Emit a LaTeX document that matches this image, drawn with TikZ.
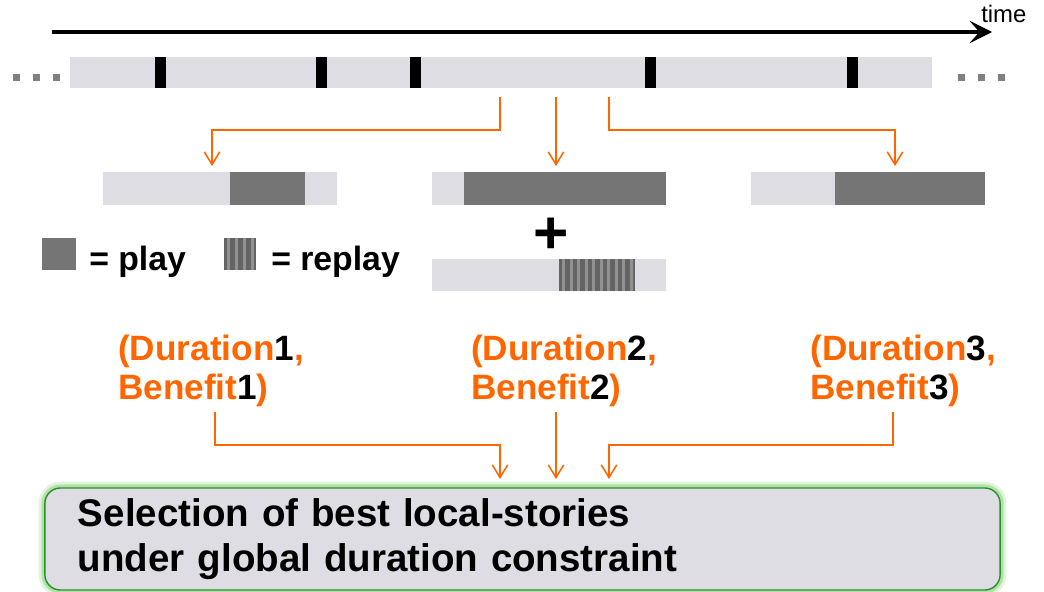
\documentclass[tikz,border=0pt]{standalone}
\usepackage{fontspec}
\setmainfont{Liberation Sans}
\usetikzlibrary{arrows.meta}
\usetikzlibrary{positioning}

\definecolor{barcol}{RGB}{221,221,227}
\definecolor{playcol}{RGB}{117,117,117}
\definecolor{stripedark}{RGB}{100,100,100}
\definecolor{stripelight}{RGB}{145,145,145}
\definecolor{arrcol}{RGB}{255,102,0}
\definecolor{dotcol}{RGB}{128,128,128}
\definecolor{boxgreen}{RGB}{40,145,40}
\definecolor{glowgreen}{RGB}{110,200,90}

\newcommand{\dnum}[1]{\textcolor{black}{#1}}

\tikzset{
  bar/.style={fill=barcol},
  play/.style={fill=playcol},
  tick/.style={fill=black},
  conn/.style={draw=arrcol, line width=1.1pt, -{Straight Barb[length=9pt,width=11pt]}},
  lab/.style={anchor=west, inner sep=0pt, align=left, text=arrcol,
    font=\fontsize{25}{27.7}\selectfont\bfseries},
  legend/.style={anchor=base west, inner sep=0pt, font=\fontsize{24}{26}\selectfont\bfseries},
  selbox/.style={rounded corners=11pt, fill=barcol, draw=boxgreen, line width=1pt,
    preaction={draw=glowgreen, line width=9pt, opacity=0.2},
    preaction={draw=glowgreen, line width=5pt, opacity=0.4},
    minimum width=23.875cm, minimum height=2.55cm, text width=22.225cm,
    inner xsep=0.825cm, align=left, font=\fontsize{27.4}{31.5}\selectfont\bfseries}
}

\begin{document}
\begin{tikzpicture}[x=0.025cm, y=-0.025cm]
  \path[use as bounding box] (0,0) rectangle (1044,591);

  % time axis
  \draw[line width=2.2pt, -{Stealth[length=16pt,width=16pt,inset=7pt]}] (52,32) -- (992,32);
  \node[anchor=base west, inner sep=0pt, font=\fontsize{17}{20}\selectfont] (timelbl) at (981,23) {time};

  % whole video
  \fill[bar] (70,57) rectangle (932,88);
  \foreach \x in {155,316,410,645,847}
    \fill[tick] (\x,57) rectangle +(11,31);
  \foreach \x in {13,33,53,958,978,998}
    \fill[dotcol] (\x,74) rectangle +(7,7);

  % local stories
  \fill[bar] (103,172) rectangle (337,205);
  \fill[play] (230,172) rectangle (305,205);

  \fill[bar] (432,172) rectangle (666,205);
  \fill[play] (464,172) rectangle (666,205);

  \fill[bar] (751,172) rectangle (985,205);
  \fill[play] (835,172) rectangle (985,205);

  \node[font=\fontsize{43}{43}\selectfont\bfseries, inner sep=0pt] (plus) at (551,236) {+};

  \fill[bar] (432,259) rectangle (666,291);
  \fill[stripedark] (559,259) rectangle (635,291);
  \foreach \i in {0,...,9}
    \fill[stripelight] (562+\i*7.5,259) rectangle +(3,32);

  % legend
  \fill[play] (42,238) rectangle (76,270);
  \node[legend] (lplay) at (89,270) {= play};
  \fill[stripedark] (224,238) rectangle (256,270);
  \foreach \i in {0,...,3}
    \fill[stripelight] (227+\i*8,238) rectangle +(3,32);
  \node[legend] (lreplay) at (271,270) {= replay};

  % arrows to the local stories
  \coordinate (t1) at (500,97);
  \coordinate (t2) at (556,97);
  \coordinate (t3) at (609,97);
  \coordinate (s1) at (212,166);
  \coordinate (s2) at (556,166);
  \coordinate (s3) at (895,166);
  \draw[conn] (t1) -- ++(0,33) -| (s1);
  \draw[conn] (t2) -- (s2);
  \draw[conn] (t3) -- ++(0,33) -| (s3);

  % duration and benefit
  \node[lab] (lab1) at (118,371) {(Duration\dnum{1},\\Benefit\dnum{1})};
  \node[lab] (lab2) at (471,371) {(Duration\dnum{2},\\Benefit\dnum{2})};
  \node[lab] (lab3) at (810,371) {(Duration\dnum{3},\\Benefit\dnum{3})};

  % selection
  \node[selbox] (sel) at (522.5,539) {Selection of best local-stories\\under global duration constraint};

  \coordinate (b1) at (215,412);
  \coordinate (b2) at (556,412);
  \coordinate (b3) at (893,412);
  \coordinate (e1) at (500,479);
  \coordinate (e2) at (556,479);
  \coordinate (e3) at (609,479);
  \draw[conn] (b1) -- ++(0,33) -| (e1);
  \draw[conn] (b2) -- (e2);
  \draw[conn] (b3) -- ++(0,33) -| (e3);
\end{tikzpicture}
\end{document}
